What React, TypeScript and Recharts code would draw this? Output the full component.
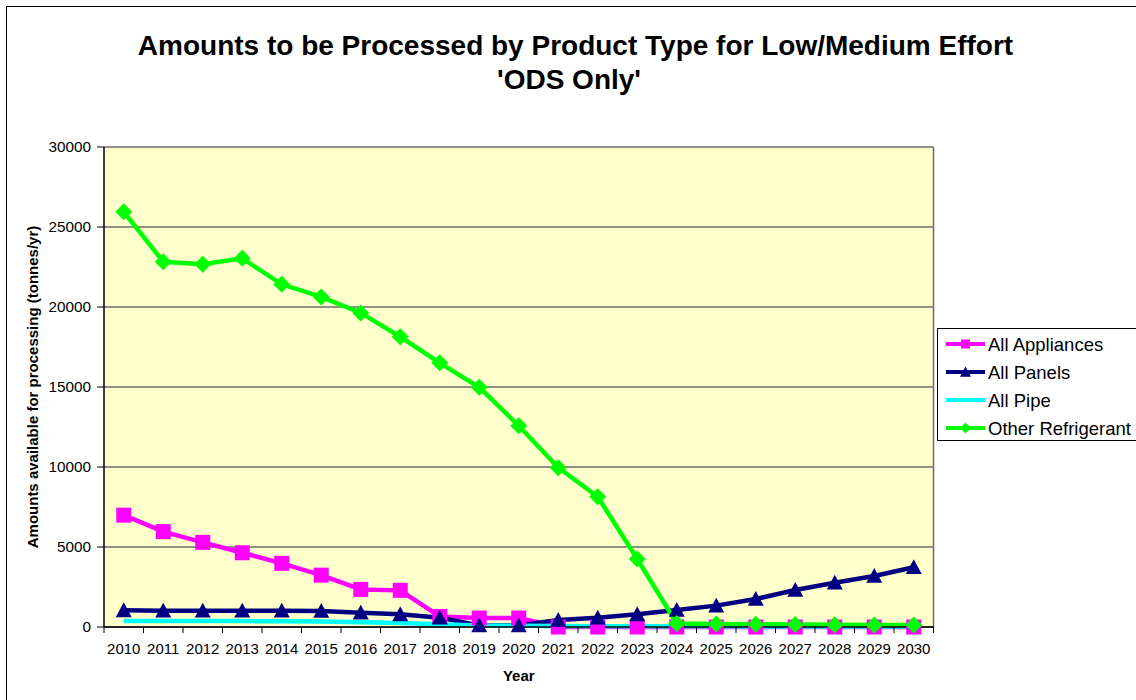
import { LineChart, Line, XAxis, YAxis, CartesianGrid } from "recharts";

const years = [
  "2010", "2011", "2012", "2013", "2014", "2015", "2016", "2017", "2018", "2019", "2020",
  "2021", "2022", "2023", "2024", "2025", "2026", "2027", "2028", "2029", "2030",
];
const appliances = [6990, 5960, 5290, 4640, 3980, 3240, 2350, 2290, 660, 560, 560, 0, 0, 0, 0, 0, 0, 0, 0, 0, 0];
const panels = [1040, 1020, 1020, 1020, 1020, 1000, 895, 790, 585, 100, 100, 440, 585, 790, 1060, 1335, 1750, 2310, 2770, 3190, 3730];
const pipe = [380, 380, 370, 370, 360, 350, 300, 250, 170, 90, 80, 60, 50, 50, 40, 40, 30, 30, 30, 30, 30];
const otherRefrigerant = [25950, 22830, 22670, 23040, 21420, 20630, 19630, 18140, 16510, 14980, 12580, 9960, 8140, 4250, 220, 190, 170, 160, 140, 130, 120];
const yTicks = [0, 5000, 10000, 15000, 20000, 25000, 30000];

const FONT = '"Liberation Sans", Arial, Helvetica, sans-serif';
const W = 1136;
const H = 700;
const PLOT_LEFT = 104;
const PLOT_RIGHT = 933.5;
const PLOT_TOP = 147;
const PLOT_BOTTOM = 627;
const BAND = (PLOT_RIGHT - PLOT_LEFT) / years.length;

type Marker = "square" | "triangle" | "diamond" | "none";

const series: { key: string; name: string; color: string; marker: Marker }[] = [
  { key: "appliances", name: "All Appliances", color: "#FF00FF", marker: "square" },
  { key: "panels", name: "All Panels", color: "#000080", marker: "triangle" },
  { key: "pipe", name: "All Pipe", color: "#00FFFF", marker: "none" },
  { key: "other", name: "Other Refrigerant", color: "#00FF00", marker: "diamond" },
];

const data = years.map((year, i) => ({
  year,
  appliances: appliances[i],
  panels: panels[i],
  pipe: pipe[i],
  other: otherRefrigerant[i],
}));

function drawMarker(kind: Marker, cx: number, cy: number, r: number, color: string, key?: string) {
  if (kind === "square") {
    return <rect key={key} x={cx - r} y={cy - r} width={r * 2} height={r * 2} fill={color} />;
  }
  if (kind === "triangle") {
    return (
      <polygon
        key={key}
        points={`${cx},${cy - r} ${cx + r},${cy + r * 0.85} ${cx - r},${cy + r * 0.85}`}
        fill={color}
      />
    );
  }
  if (kind === "diamond") {
    return (
      <polygon
        key={key}
        points={`${cx},${cy - r} ${cx + r},${cy} ${cx},${cy + r} ${cx - r},${cy}`}
        fill={color}
      />
    );
  }
  return <g key={key} />;
}

const markerSize: Record<Marker, number> = { square: 7.5, triangle: 8, diamond: 8.5, none: 0 };

const XTick = (p: any) => {
  const { x, index, payload } = p;
  const last = index === years.length - 1;
  return (
    <g>
      <line x1={x - BAND / 2} x2={x - BAND / 2} y1={PLOT_BOTTOM} y2={PLOT_BOTTOM + 6} stroke="#000" />
      {last && <line x1={x + BAND / 2} x2={x + BAND / 2} y1={PLOT_BOTTOM} y2={PLOT_BOTTOM + 6} stroke="#000" />}
      <text x={x} y={654} textAnchor="middle" fontSize={15} fontFamily={FONT} fill="#000">
        {payload.value}
      </text>
    </g>
  );
};

function Legend() {
  return (
    <div
      style={{
        position: "absolute",
        left: 937,
        top: 328,
        width: 220,
        height: 113,
        border: "1px solid #000",
        background: "#fff",
        boxSizing: "border-box",
      }}
    >
      <svg width={220} height={113}>
        {series.map((s, i) => {
          const cy = 15 + i * 28;
          return (
            <g key={s.key}>
              <line x1={8} x2={47} y1={cy} y2={cy} stroke={s.color} strokeWidth={4} />
              {drawMarker(s.marker, 27.5, cy, s.marker === "square" ? 4.5 : 5.5, s.color)}
              <text x={50} y={cy + 6.5} fontSize={18.5} fontFamily={FONT} fill="#000">
                {s.name}
              </text>
            </g>
          );
        })}
      </svg>
    </div>
  );
}

export default function App() {
  return (
    <div style={{ position: "relative", width: W, height: H, overflow: "hidden", background: "#fff" }}>
      <style>{"body{margin:0}"}</style>
      <svg width={W} height={H} style={{ position: "absolute", left: 0, top: 0 }}>
        <rect x={6.5} y={6.5} width={1400} height={1400} fill="none" stroke="#000" strokeWidth={1} />
        <text x={575.5} y={55} textAnchor="middle" fontSize={28} fontWeight="bold" fontFamily={FONT} fill="#000">
          Amounts to be Processed by Product Type for Low/Medium Effort
        </text>
        <text x={569} y={89} textAnchor="middle" fontSize={28} fontWeight="bold" fontFamily={FONT} fill="#000">
          'ODS Only'
        </text>
      </svg>
      <div style={{ position: "absolute", left: 0, top: 0 }}>
        <LineChart
          width={W}
          height={H}
          data={data}
          margin={{ top: PLOT_TOP, right: W - PLOT_RIGHT, bottom: 0, left: 0 }}
        >
          <CartesianGrid
            fill="#FFFFCC"
            stroke="#6b6b6b"
            strokeWidth={1.5}
            horizontal={true}
            vertical={true}
            verticalPoints={[PLOT_RIGHT]}
          />
          <XAxis
            dataKey="year"
            interval={0}
            height={H - PLOT_BOTTOM}
            padding={{ left: BAND / 2, right: BAND / 2 }}
            tickLine={false}
            axisLine={{ stroke: "#000", strokeWidth: 1.5 }}
            tick={XTick}
            label={{
              content: (props: any) => {
                const vb = props.viewBox;
                return (
                  <text
                    x={vb.x + vb.width / 2}
                    y={vb.y + 54}
                    textAnchor="middle"
                    fontSize={15}
                    fontWeight="bold"
                    fontFamily={FONT}
                    fill="#000"
                  >
                    Year
                  </text>
                );
              },
            }}
          />
          <YAxis
            type="number"
            domain={[0, 30000]}
            ticks={yTicks}
            interval={0}
            width={PLOT_LEFT}
            tickSize={7}
            tickMargin={6}
            tick={{ fontSize: 15.3, fill: "#000", fontFamily: FONT }}
            tickLine={{ stroke: "#000" }}
            axisLine={{ stroke: "#000", strokeWidth: 1.5 }}
            label={{
              content: (props: any) => {
                const vb = props.viewBox;
                const cx = vb.x + 38;
                const cy = vb.y + vb.height / 2;
                return (
                  <text
                    x={cx}
                    y={cy}
                    transform={`rotate(-90 ${cx} ${cy})`}
                    textAnchor="middle"
                    fontSize={15}
                    fontWeight="bold"
                    fontFamily={FONT}
                    fill="#000"
                  >
                    Amounts available for processing (tonnes/yr)
                  </text>
                );
              },
            }}
          />
          {series.map((s) => (
            <Line
              key={s.key}
              type="linear"
              dataKey={s.key}
              name={s.name}
              stroke={s.color}
              strokeWidth={4.5}
              isAnimationActive={false}
              activeDot={false}
              dot={
                s.marker === "none"
                  ? false
                  : (p: any) => drawMarker(s.marker, p.cx, p.cy, markerSize[s.marker], s.color, `${s.key}-${p.index}`)
              }
            />
          ))}
        </LineChart>
      </div>
      <Legend />
    </div>
  );
}
